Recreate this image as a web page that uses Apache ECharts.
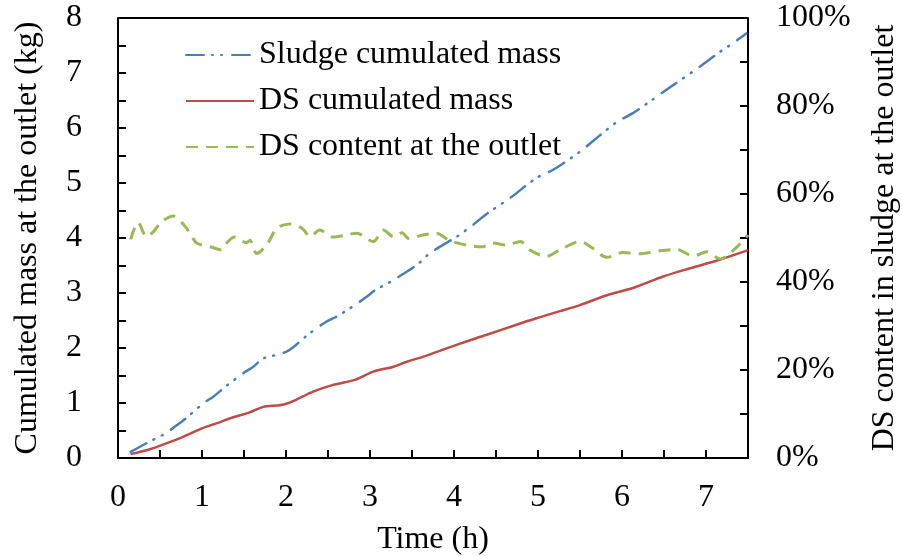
<!DOCTYPE html>
<html>
<head>
<meta charset="utf-8">
<script src="https://cdn.jsdelivr.net/npm/echarts@6/dist/echarts.min.js"></script>
<style>html,body{margin:0;padding:0;background:#fff}#c{width:902px;height:556px}</style>
</head>
<body>
<div id="c"></div>
<script>
const sludgeTime = [0.15,0.34,0.57,0.66,0.83,1.02,1.13,1.29,1.49,1.61,1.73,1.87,2.0,2.09,2.26,2.46,2.6,2.76,2.96,3.06,3.24,3.46,3.56,3.71,3.93,4.03,4.21,4.4,4.67,4.98,5.18,5.5,5.74,5.94,6.13,6.33,6.61,6.93,7.17,7.29,7.48];
const sludgeMass = [0.11,0.27,0.45,0.55,0.75,1.0,1.11,1.31,1.54,1.66,1.81,1.87,1.93,2.02,2.24,2.46,2.57,2.72,2.93,3.05,3.2,3.41,3.51,3.72,3.93,4.02,4.22,4.45,4.73,5.09,5.24,5.57,5.87,6.11,6.27,6.48,6.78,7.12,7.39,7.51,7.72];

const dsTime = [0.15,0.38,0.58,0.78,1.0,1.17,1.37,1.55,1.73,1.93,2.05,2.33,2.56,2.82,3.04,3.28,3.44,3.69,4.07,4.39,4.7,4.98,5.26,5.5,5.82,6.13,6.49,6.81,7.17,7.5];
const dsMass = [0.07,0.16,0.27,0.39,0.54,0.63,0.74,0.82,0.93,0.96,1.01,1.21,1.33,1.42,1.57,1.66,1.75,1.87,2.08,2.24,2.40,2.54,2.67,2.78,2.96,3.09,3.30,3.45,3.61,3.78];

const contentTime = [0.15,0.24,0.34,0.42,0.52,0.66,0.8,0.88,0.94,1.1,1.23,1.29,1.39,1.53,1.57,1.65,1.77,1.89,2.05,2.19,2.29,2.4,2.56,2.72,2.84,3.04,3.16,3.28,3.38,3.46,3.63,3.79,3.95,4.15,4.34,4.45,4.63,4.79,4.9,5.1,5.26,5.5,5.65,5.82,6.01,6.21,6.45,6.65,6.85,7.01,7.17,7.37,7.5];
const contentPct = [49.7,53.5,50.3,51.4,53.7,55.0,52.6,50.3,48.8,48.0,47.3,48.8,50.2,48.9,49.5,46.5,48.4,52.2,53.2,52.2,50.3,51.8,50.2,50.7,51.1,49.2,51.8,50.3,51.2,49.9,50.7,51.1,49.4,48.4,48.0,48.9,48.4,49.2,47.3,45.8,47.3,49.2,47.7,45.6,46.7,46.4,47.1,47.4,45.9,46.9,45.2,48.0,50.7];

const seriesNames = ['Sludge cumulated mass','DS cumulated mass','DS content at the outlet'];
const xTitle = 'Time (h)';
const yLeftTitle = 'Cumulated mass at the outlet (kg)';
const yRightTitle = 'DS content in sludge at the outlet';

const zip = (a, b) => a.map((v, i) => [v, b[i]]);
const FONT = 'Liberation Serif';
const FS = 32;

const chart = echarts.init(document.getElementById('c'), null, {renderer: 'canvas'});
chart.setOption({
  animation: false,
  backgroundColor: '#fff',
  textStyle: {fontFamily: FONT},
  grid: {left: 118, right: 154, top: 18, bottom: 98, show: false, containLabel: false, outerBoundsMode: 'none'},
  legend: {
    orient: 'vertical', left: 180, top: 34, itemWidth: 68, itemHeight: 14, itemGap: 14,
    itemStyle: {opacity: 0},
    textStyle: {fontFamily: FONT, fontSize: FS, color: '#000'},
    data: seriesNames
  },
  xAxis: {
    type: 'value', min: 0, max: 7.5, interval: 0.5,
    name: xTitle, nameLocation: 'middle', nameGap: 66,
    nameTextStyle: {fontFamily: FONT, fontSize: FS, color: '#000'},
    axisLine: {lineStyle: {color: '#000', width: 2}},
    axisTick: {inside: true, length: 8, lineStyle: {color: '#000', width: 2}},
    axisLabel: {fontFamily: FONT, fontSize: FS, color: '#000', margin: 24,
      formatter: v => Number.isInteger(v) ? String(v) : ''},
    splitLine: {show: false}
  },
  yAxis: [{
    type: 'value', min: 0, max: 8, interval: 0.5, position: 'left',
    name: yLeftTitle, nameLocation: 'middle', nameGap: 74, nameRotate: 90,
    nameTextStyle: {fontFamily: FONT, fontSize: FS, color: '#000'},
    axisLine: {show: true, lineStyle: {color: '#000', width: 2}},
    axisTick: {show: true, inside: true, length: 8, lineStyle: {color: '#000', width: 2}},
    axisLabel: {fontFamily: FONT, fontSize: FS, color: '#000', margin: 36,
      formatter: v => Number.isInteger(v) ? String(v) : ''},
    splitLine: {show: false}
  }, {
    type: 'value', min: 0, max: 100, interval: 10, position: 'right',
    name: yRightTitle, nameLocation: 'middle', nameGap: 121, nameRotate: 90,
    nameTextStyle: {fontFamily: FONT, fontSize: FS, color: '#000'},
    axisLine: {show: true, lineStyle: {color: '#000', width: 2}},
    axisTick: {show: true, inside: true, length: 8, lineStyle: {color: '#000', width: 2}},
    axisLabel: {fontFamily: FONT, fontSize: FS, color: '#000', margin: 28,
      formatter: v => (v % 20 === 0) ? v + '%' : ''},
    splitLine: {show: false}
  }],
  series: [{
    name: seriesNames[0], type: 'line', yAxisIndex: 0, smooth: 0.3, symbol: 'none',
    data: zip(sludgeTime, sludgeMass),
    lineStyle: {color: '#4A7EBB', width: 2.5, type: [18, 8, 1, 8, 1, 10], cap: 'round'},
    itemStyle: {color: '#4A7EBB'}
  }, {
    name: seriesNames[1], type: 'line', yAxisIndex: 0, smooth: 0.3, symbol: 'none',
    data: zip(dsTime, dsMass),
    lineStyle: {color: '#BE4B48', width: 2.5},
    itemStyle: {color: '#BE4B48'}
  }, {
    name: seriesNames[2], type: 'line', yAxisIndex: 1, smooth: 0.3, symbol: 'none',
    data: zip(contentTime, contentPct),
    lineStyle: {color: '#98B954', width: 3, type: [12, 8]},
    itemStyle: {color: '#98B954'}
  }],
  graphic: [{
    type: 'rect', shape: {x: 118, y: 18, width: 630, height: 0},
    style: {stroke: '#000', lineWidth: 2, fill: null}, silent: true
  }]
});
</script>
</body>
</html>
